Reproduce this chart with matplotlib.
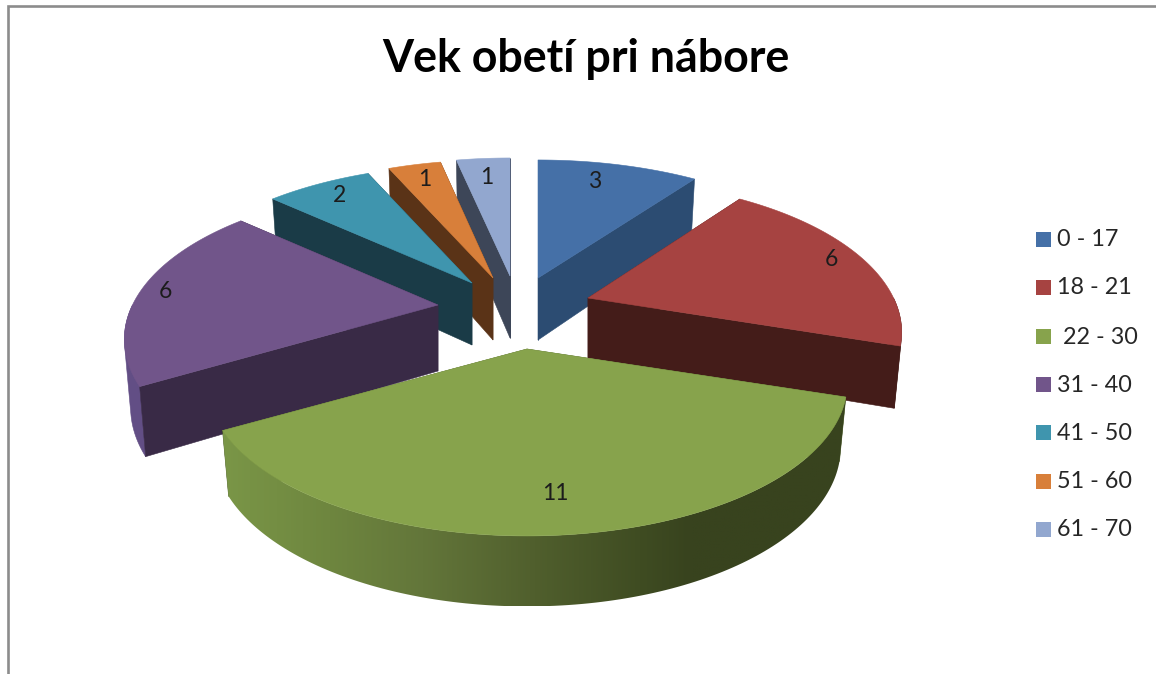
import numpy as np
import matplotlib
matplotlib.use("Agg")
import matplotlib.pyplot as plt
from matplotlib.patches import Polygon, Rectangle
from matplotlib.colors import LinearSegmentedColormap

title = "Vek obetí pri nábore"
categories = ["0 - 17", "18 - 21", " 22 - 30", "31 - 40", "41 - 50", "51 - 60", "61 - 70"]
values = [3, 6, 11, 6, 2, 1, 1]

top_colors = ["#4570a7", "#a64341", "#87a34c", "#71558a", "#3f95ae", "#d87f3a", "#92a7cf"]
side_colors = ["#2c4c72", "#441c19", "#4e5f2b", "#392a46", "#1a3b47", "#5a3317", "#3d4658"]
outer_colors = ["#2c4c72", "#441c19", None, "#624e85", "#1a3b47", "#5a3317", "#3d4658"]
tips = [(538, 278), (588, 298), (527, 349), (438, 305), (472, 283), (493, 278), (510, 276)]
rx_scale = [1.0, 0.97, 0.99, 0.97, 0.98, 0.98, 1.0]
depths = [62, 60, 62, 66, 62, 62, 62]
label_xy = [(595, 181), (831, 260), (555, 494), (165, 292), (339, 196), (425, 180), (487, 177)]
legend_y = [239, 287, 336, 384, 432, 481, 529]
draw_order = [6, 5, 4, 0, 3, 1, 2]

RX, RY, K, BOTTOM_X = 315.0, 144.7, 0.226, 0.98
green_ramp = LinearSegmentedColormap.from_list(
    "green_side",
    [(0, "#7a9647"), (0.17, "#6e863f"), (0.32, "#63763a"), (0.5, "#505f2d"),
     (0.67, "#3f4c22"), (0.75, "#38431e"), (1, "#38431e")],
)

plt.rcParams["font.family"] = ["Lato", "DejaVu Sans"]
fig = plt.figure(figsize=(11.56, 6.74), dpi=100)
ax = fig.add_axes([0, 0, 1, 1])
ax.axis("off")

# partial chart frame
ax.plot([8, 8, 1156], [674, 5.5, 5.5], color="#8c8c8c", lw=1.9, solid_joinstyle="miter", zorder=0)


def top_point(i, deg, outer=1.0):
    th = np.radians(deg)
    s = 1 / (1 + K * np.cos(th))
    return (tips[i][0] + outer * RX * rx_scale[i] * np.sin(th) * s,
            tips[i][1] - outer * RY * np.cos(th) * s)


def bottom_point(i, deg, outer=1.0):
    x, y = top_point(i, deg, outer)
    th = np.radians(deg)
    s = 1 / (1 + K * outer * np.cos(th))
    return tips[i][0] + (x - tips[i][0]) * BOTTOM_X, y + depths[i] * np.sqrt(s)


def hull(points):
    pts = sorted(set((float(a), float(b)) for a, b in points))

    def half(seq):
        out = []
        for p in seq:
            while len(out) >= 2 and ((out[-1][0] - out[-2][0]) * (p[1] - out[-2][1])
                                     - (out[-1][1] - out[-2][1]) * (p[0] - out[-2][0])) <= 0:
                out.pop()
            out.append(p)
        return out[:-1]

    return half(pts) + half(pts[::-1])


def face(points, color, z):
    patch = Polygon(points, closed=True, facecolor=color, edgecolor=color, lw=0.4, zorder=z)
    ax.add_patch(patch)
    return patch


edges = np.concatenate([[0], np.cumsum(values)]) / sum(values) * 360
for order, i in enumerate(draw_order):
    a0, a1 = edges[i], edges[i + 1]
    z = 2 + order
    tip_b = bottom_point(i, a0, 0.0)
    for a in (a0, a1):
        face([tips[i], top_point(i, a), bottom_point(i, a), tip_b], side_colors[i], z)
    lo, hi = max(a0, 90), min(a1, 270)
    if hi > lo:
        arc = np.linspace(lo, hi, 133)
        pts = [top_point(i, a) for a in arc] + [bottom_point(i, a) for a in arc[::-1]]
        if outer_colors[i] is None:
            clip = Polygon(pts, closed=True, facecolor="none", edgecolor="none", transform=ax.transData)
            ax.add_patch(clip)
            xs = [p[0] for p in pts]
            ys = [p[1] for p in pts]
            shade = np.linspace(0, 1, 512).reshape(1, -1)
            im = ax.imshow(shade, cmap=green_ramp, aspect="auto", zorder=z + 0.1,
                           extent=(min(xs), max(xs), max(ys), min(ys)), interpolation="bilinear")
            im.set_clip_path(clip)
        else:
            face(hull(pts), outer_colors[i], z - 0.1)
    arc = np.linspace(a0, a1, 100)
    face([tips[i]] + [top_point(i, a) for a in arc], top_colors[i], z + 0.2)

for v, (x, y) in zip(values, label_xy):
    ax.text(x, y, str(v), ha="center", va="center", fontsize=16.5, color="#1c1c1c", zorder=20)

ax.text(586, 59, title, ha="center", va="center", fontsize=32.2, fontweight="bold", color="black", zorder=20)

for cat, col, y in zip(categories, top_colors, legend_y):
    ax.add_patch(Rectangle((1036, y - 7.5), 15, 15, facecolor=col, edgecolor="none", zorder=20))
    ax.text(1057, y + 1, cat, ha="left", va="center", fontsize=16.8, color="#262626", zorder=20)

ax.set_xlim(0, 1156)
ax.set_ylim(674, 0)
fig.savefig("out.png", dpi=100)
